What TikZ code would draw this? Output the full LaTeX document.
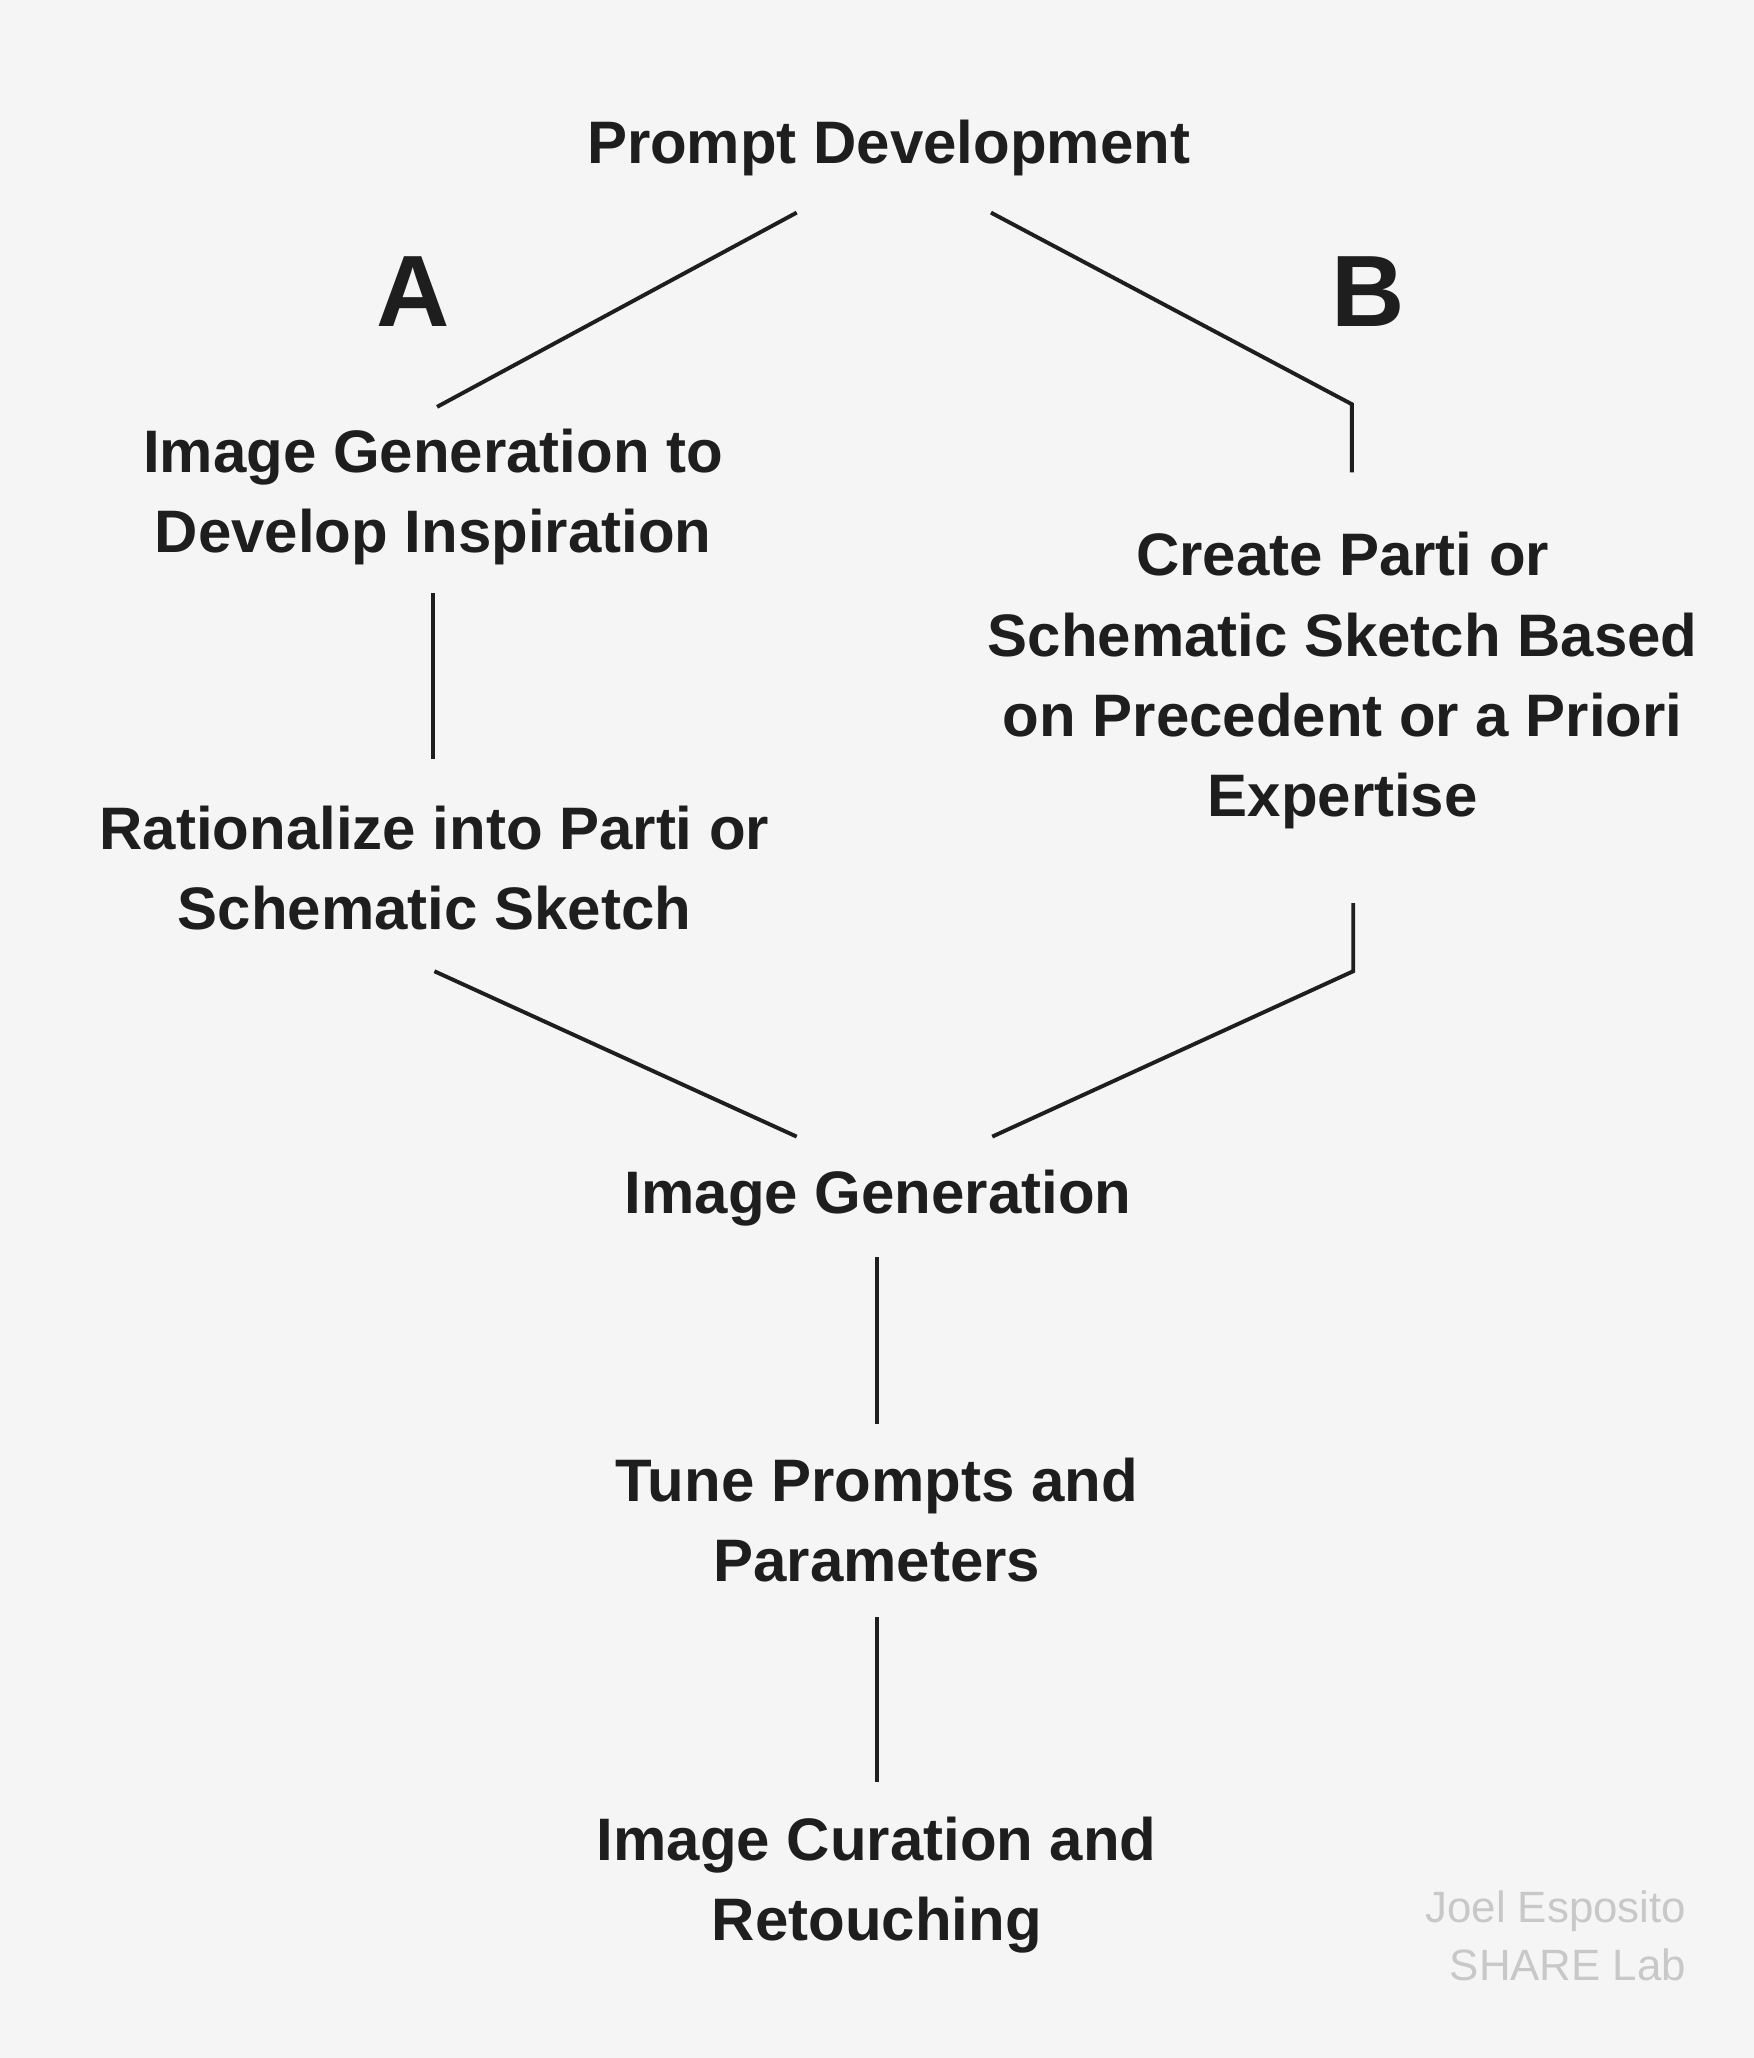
\documentclass[tikz,border=0pt]{standalone}
\usepackage{fontspec}
\setmainfont{Liberation Sans}
\usetikzlibrary{positioning}
\definecolor{ink}{RGB}{30,30,30}
\definecolor{paper}{RGB}{245,245,245}
\definecolor{mark}{RGB}{200,200,200}

\begin{document}
\begin{tikzpicture}[
    line width=1.7pt,   % lines
    ink,
    step text/.style={font=\fontsize{26}{34.7}\selectfont\bfseries, align=center, text=ink},
    branch/.style={font=\fontsize{44}{50}\selectfont\bfseries, text=ink},
    credit/.style={font=\fontsize{19}{25}\selectfont, align=right, text=mark, anchor=east}
  ]
  \fill[paper] (0,0) rectangle (26.72,-31.36);

  % --- steps ---
  \node[step text] (prompt) at (13.54,-2.26) {Prompt Development};
  \node[branch] (brA) at (6.3,-4.44) {A};
  \node[branch] (brB) at (20.84,-4.44) {B};
  \node[step text] (inspire) at (6.6,-7.57) {Image Generation to\\Develop Inspiration};
  \node[step text] (ration) at (6.62,-13.23) {Rationalize into Parti or\\Schematic Sketch};
  \node[step text] (parti) at (20.46,-10.37) {Create Parti or\\Schematic Sketch Based\\on Precedent or a Priori\\Expertise};
  \node[step text] (imggen) at (13.38,-18.26) {Image Generation};
  \node[step text] (tune) at (13.36,-23.17) {Tune Prompts and\\Parameters};
  \node[step text] (curate) at (13.36,-28.73) {Image Curation and\\Retouching};
  \node[credit] (credit) at (25.84,-29.5) {Joel Esposito\\SHARE Lab};

  % --- connector ends ---
  \coordinate (pdL) at (12.14,-3.24);
  \coordinate (pdR) at (15.1,-3.24);
  \coordinate (aTop) at (6.66,-6.2);
  \coordinate (bBend) at (20.6,-6.16);
  \coordinate (bTop) at (20.6,-7.2);
  \coordinate (aMidT) at (6.6,-9.04);
  \coordinate (aMidB) at (6.6,-11.56);
  \coordinate (aBot) at (6.62,-14.8);
  \coordinate (bBot) at (20.62,-13.76);
  \coordinate (bBend2) at (20.62,-14.8);
  \coordinate (igL) at (12.14,-17.32);
  \coordinate (igR) at (15.12,-17.32);
  \coordinate (igB) at (13.36,-19.16);
  \coordinate (tuT) at (13.36,-21.7);
  \coordinate (tuB) at (13.36,-24.64);
  \coordinate (cuT) at (13.36,-27.16);

  % --- connectors ---
  \draw (pdL) -- (aTop);
  \draw (pdR) -- (bBend) -- (bTop);
  \draw (aMidT) -- (aMidB);
  \draw (aBot) -- (igL);
  \draw (bBot) -- (bBend2) -- (igR);
  \draw (igB) -- (tuT);
  \draw (tuB) -- (cuT);
\end{tikzpicture}
\end{document}
